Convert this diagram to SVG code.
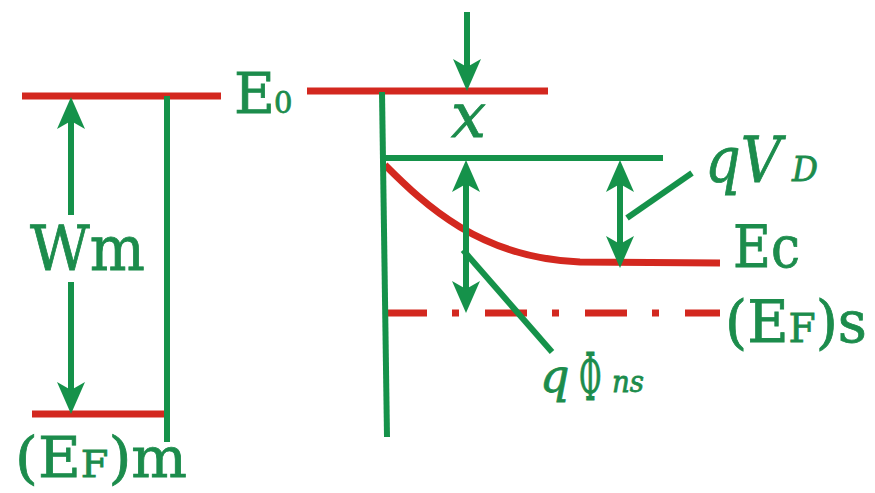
<svg xmlns="http://www.w3.org/2000/svg" width="875" height="493" viewBox="0 0 875 493">
<style>
.red{stroke:#d3281f;stroke-width:7;fill:none}
.grn{stroke:#15924a;stroke-width:6;fill:none}
.lbl{fill:#1c8c4c;stroke:#1c8c4c;stroke-width:0.8}
.it{font-style:italic}
</style>
<defs>
<marker id="ah" markerUnits="userSpaceOnUse" viewBox="-24 -15 36 30" markerWidth="36" markerHeight="30" refX="0" refY="0" orient="auto-start-reverse">
<path d="M10,0 L-22,-14 L-14,0 L-22,14 Z" fill="#15924a"/>
</marker>
</defs>
<rect width="875" height="493" fill="#fff"/>
<g id="levels">
<line class="red" x1="22" y1="96" x2="221" y2="96"/>
<line class="red" x1="307" y1="91" x2="548" y2="91"/>
<line class="red" x1="32" y1="414" x2="170" y2="414"/>
<path class="red" d="M385,165 C425,205 480,258 580,262 L720,263"/>
<line class="red" x1="385" y1="313" x2="720" y2="313" stroke-dasharray="42 25 7 26"/>
</g>
<g id="walls">
<line class="grn" x1="167" y1="96" x2="167" y2="442"/>
<line class="grn" x1="382" y1="92" x2="387" y2="437"/>
<line class="grn" x1="383" y1="158" x2="663" y2="158"/>
</g>
<g id="connectors">
<path class="grn" d="M71,215 L71,107" marker-end="url(#ah)"/>
<path class="grn" d="M71,282 L71,404" marker-end="url(#ah)"/>
<path class="grn" d="M467,12 L467,81" marker-end="url(#ah)"/>
<path class="grn" d="M466,170 L466,303" marker-start="url(#ah)" marker-end="url(#ah)"/>
<path class="grn" d="M620,170 L620,258" marker-start="url(#ah)" marker-end="url(#ah)"/>
<line class="grn" x1="627" y1="218" x2="692" y2="173"/>
<line class="grn" x1="463" y1="250" x2="552" y2="352"/>
</g>
<g font-family="DejaVu Serif, serif">
<g id="label-E0"><text class="lbl" x="234" y="113" font-size="56">E</text><text class="lbl" x="274" y="113" font-size="29">0</text></g>
<g id="label-Wm"><text class="lbl" x="30" y="270" font-size="62" textLength="115" lengthAdjust="spacingAndGlyphs">Wm</text></g>
<g id="label-EFm"><text class="lbl" x="15" y="477" font-size="56" textLength="172" lengthAdjust="spacingAndGlyphs">(E<tspan font-size="38">F</tspan>)m</text></g>
<g id="label-x"><text class="lbl it" x="451" y="137" font-size="62">x</text></g>
<g id="label-qVD">
<text class="lbl it" x="705" y="182" font-size="64" textLength="76" lengthAdjust="spacingAndGlyphs">qV</text>
<text class="lbl it" x="792" y="181" font-size="34" textLength="26" lengthAdjust="spacingAndGlyphs">D</text>
</g>
<g id="label-Ec"><text class="lbl" x="733" y="267" font-size="58" textLength="67" lengthAdjust="spacingAndGlyphs">Ec</text></g>
<g id="label-EFs"><text class="lbl" x="725" y="342" font-size="58" textLength="142" lengthAdjust="spacingAndGlyphs">(E<tspan font-size="40">F</tspan>)s</text></g>
<g id="label-qphins">
<text class="lbl it" x="540" y="392" font-size="46">q</text>
<text class="lbl" transform="translate(579,400) scale(0.55,1.3)" font-size="50" stroke-width="1.5">Φ</text>
<text class="lbl it" x="612" y="392" font-size="30" textLength="32" lengthAdjust="spacingAndGlyphs">ns</text>
</g>
</g>
</svg>
